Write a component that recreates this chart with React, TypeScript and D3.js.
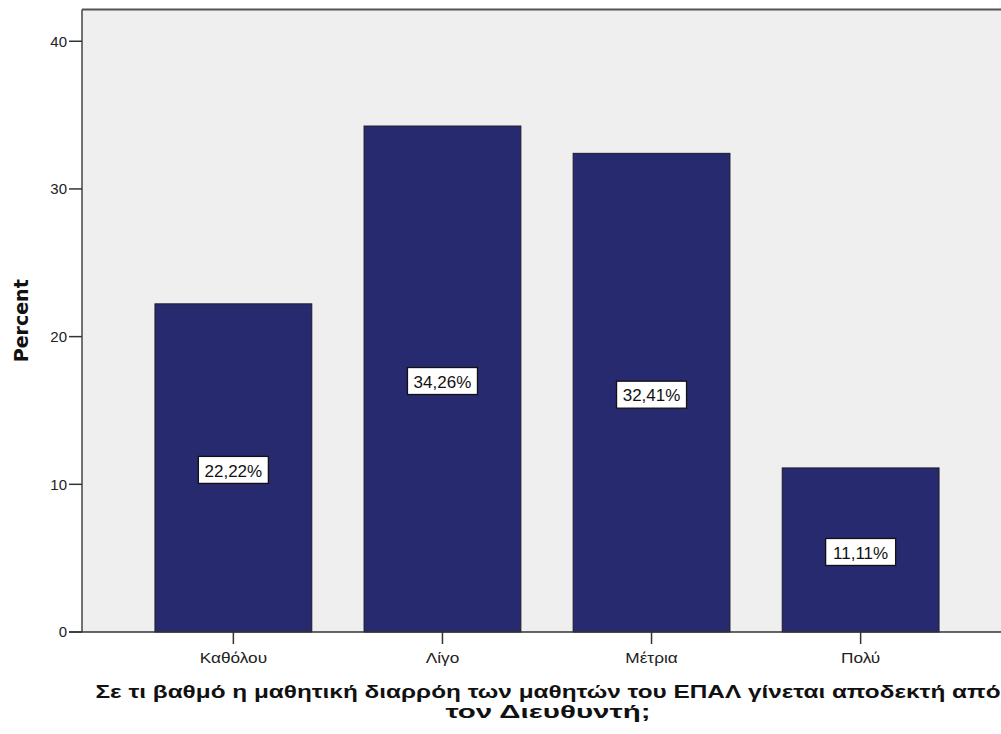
import React from "react";
import * as d3 from "d3";

const categories = ["Καθόλου", "Λίγο", "Μέτρια", "Πολύ"];
const percents = [22.22, 34.26, 32.41, 11.11];
const yTicks = [0, 10, 20, 30, 40];
const xTitleLines = [
  "Σε τι βαθμό η μαθητική διαρρόη των μαθητών του ΕΠΑΛ γίνεται αποδεκτή από",
  "τον Διευθυντή;",
];
const yTitle = "Percent";

const W = 1001;
const H = 734;
const plot = { left: 82, right: 1012, top: 9.5, bottom: 632 };
const font = "'Liberation Sans', Arial, sans-serif";
const titleFont = "'DejaVu Sans', Verdana, sans-serif";

export default function App() {
  const x = d3
    .scaleBand<string>()
    .domain(categories)
    .range([plot.left, plot.right])
    .paddingInner(0.25)
    .paddingOuter(0.349);
  const y = d3.scaleLinear().domain([0, 42.15]).range([plot.bottom, plot.top]);
  const fmt = (v: number) => v.toFixed(2).replace(".", ",") + "%";

  return (
    <svg
      width={W}
      height={H}
      style={{ position: "absolute", left: 0, top: 0, background: "#fff" }}
      fontFamily={font}
    >
      <rect x={plot.left} y={plot.top} width={plot.right - plot.left} height={plot.bottom - plot.top} fill="#efefef" />
      {categories.map((c, i) => {
        const bx = x(c)!;
        const by = y(percents[i]);
        const h = plot.bottom - by;
        return (
          <rect key={c} x={bx} y={by} width={x.bandwidth()} height={h} fill="#282a70" stroke="#1b1b2a" strokeWidth={1} />
        );
      })}
      {/* frame */}
      <line x1={plot.left} x2={plot.right} y1={plot.top} y2={plot.top} stroke="#555" strokeWidth={2} />
      <line x1={plot.left} x2={plot.left} y1={plot.top} y2={plot.bottom} stroke="#444" strokeWidth={1.5} />
      <line x1={plot.left - 13} x2={plot.right} y1={plot.bottom} y2={plot.bottom} stroke="#333" strokeWidth={1.5} />
      {/* y axis ticks */}
      {yTicks.map((t) => (
        <g key={t}>
          <line x1={plot.left - 13} x2={plot.left} y1={y(t)} y2={y(t)} stroke="#333" strokeWidth={1.5} />
          <text x={plot.left - 15} y={y(t)} dy="0.35em" textAnchor="end" fontSize={15} fill="#222">
            {t}
          </text>
        </g>
      ))}
      {/* x axis ticks */}
      {categories.map((c) => {
        const cx = x(c)! + x.bandwidth() / 2;
        return (
          <g key={c}>
            <line x1={cx} x2={cx} y1={plot.bottom} y2={plot.bottom + 12} stroke="#333" strokeWidth={1.5} />
            <text
              transform={`translate(${cx},${plot.bottom + 26}) scale(1.15,1)`}
              dy="0.35em"
              textAnchor="middle"
              fontSize={15}
              fill="#222"
            >
              {c}
            </text>
          </g>
        );
      })}
      {/* value labels */}
      {categories.map((c, i) => {
        const cx = x(c)! + x.bandwidth() / 2;
        const cy = y(percents[i] / 2);
        const bw = 70;
        const bh = 27;
        return (
          <g key={c + "-lab"}>
            <rect x={cx - bw / 2} y={cy - bh / 2 + 2} width={bw} height={bh} fill="#fff" stroke="#111" strokeWidth={1.3} />
            <text x={cx} y={cy + 2.5} dy="0.36em" textAnchor="middle" fontSize={17} fill="#111">
              {fmt(percents[i])}
            </text>
          </g>
        );
      })}
      {/* axis titles */}
      <text
        transform={`translate(21,${(plot.top + plot.bottom) / 2}) rotate(-90)`}
        textAnchor="middle"
        dy="0.35em"
        fontSize={19}
        fontWeight="bold"
        fontFamily={titleFont}
        fill="#111"
      >
        {yTitle}
      </text>
      {xTitleLines.map((l, i) => (
        <text
          key={i}
          x={548}
          y={691 + i * 20}
          dy="0.35em"
          textAnchor="middle"
          fontSize={19}
          fontWeight="bold"
          fill="#111"
          textLength={i === 0 ? 905 : 205}
          lengthAdjust="spacingAndGlyphs"
        >
          {l}
        </text>
      ))}
    </svg>
  );
}
